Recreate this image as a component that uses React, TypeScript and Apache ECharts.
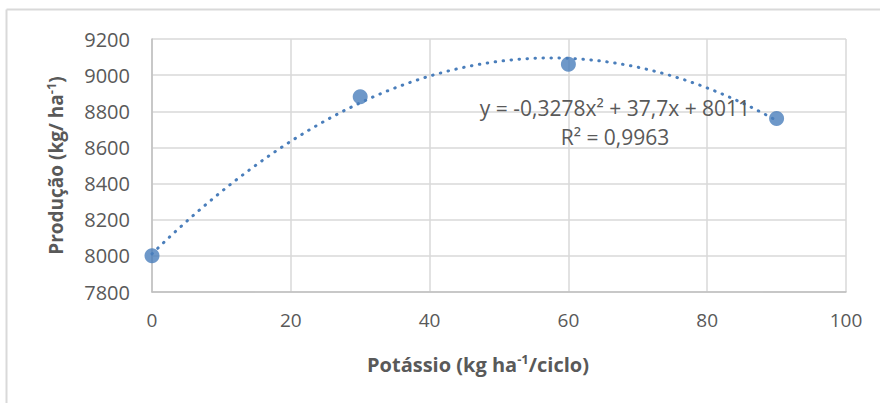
import React, { useEffect, useRef } from "react";
import * as echarts from "echarts";

// Potassium dose (kg/ha per cycle) and measured yield (kg/ha)
const potassio = [0, 30, 60, 90];
const producao = [8000, 8880, 9060, 8760];

// Polynomial trendline coefficients as reported on the chart
const coefA = -0.3278;
const coefB = 37.7;
const coefC = 8011;
const r2Text = "0,9963";

const xTicks = { min: 0, max: 100, interval: 20 };
const yTicks = { min: 7800, max: 9200, interval: 200 };

const blue = "#4a7ebb";
const gray = "#595959";
const font = "'Open Sans', 'Noto Sans', sans-serif";

export default function App() {
  const ref = useRef<HTMLDivElement>(null);

  useEffect(() => {
    if (!ref.current) return;
    const chart = echarts.init(ref.current, undefined, { renderer: "svg" });

    const xEnd = potassio[potassio.length - 1];
    const trend: number[][] = [];
    for (let i = 0; i <= 180; i++) {
      const x = (xEnd * i) / 180;
      trend.push([x, coefA * x * x + coefB * x + coefC]);
    }

    const points = potassio.map((x, i) => [x, producao[i]]);

    const supRich = {
      sup: {
        fontSize: 13,
        fontWeight: "bold",
        lineHeight: 12,
        verticalAlign: "top",
        color: gray,
        fontFamily: font,
      },
    };

    chart.setOption({
      animation: false,
      backgroundColor: "#ffffff",
      grid: { left: 152, right: 34, top: 39, bottom: 111 },
      xAxis: {
        type: "value",
        min: xTicks.min,
        max: xTicks.max,
        interval: xTicks.interval,
        axisLine: { show: true, lineStyle: { color: "#bfbfbf", width: 1.5 } },
        axisTick: { show: false },
        splitLine: { show: true, lineStyle: { color: "#d9d9d9", width: 1.5 } },
        axisLabel: { color: gray, fontSize: 19, fontFamily: font, margin: 18 },
        name: "Potássio (kg ha{sup|-1}/ciclo)",
        nameLocation: "middle",
        nameGap: 60,
        nameTextStyle: {
          color: gray,
          fontSize: 20,
          fontWeight: "bold",
          fontFamily: font,
          lineHeight: 24,
          padding: [0, 42, 0, 0],
          rich: supRich,
        },
      },
      yAxis: {
        type: "value",
        min: yTicks.min,
        max: yTicks.max,
        interval: yTicks.interval,
        axisLine: { show: true, lineStyle: { color: "#bfbfbf", width: 1.5 } },
        axisTick: { show: false },
        splitLine: { show: true, lineStyle: { color: "#d9d9d9", width: 1.5 } },
        axisLabel: {
          color: gray,
          fontSize: 20,
          fontFamily: font,
          margin: 22,
          formatter: (v: number) => String(v),
        },
        name: "Produção (kg/ ha{sup|-1})",
        nameLocation: "middle",
        nameGap: 84,
        nameTextStyle: {
          color: gray,
          fontSize: 19,
          fontWeight: "bold",
          fontFamily: font,
          lineHeight: 24,
          rich: supRich,
        },
      },
      series: [
        {
          type: "line",
          data: trend,
          showSymbol: false,
          symbol: "none",
          smooth: false,
          lineStyle: { color: blue, width: 3, type: [0.5, 7.5], cap: "round" },
          z: 2,
        },
        {
          type: "scatter",
          data: points,
          symbol: "circle",
          symbolSize: 15,
          itemStyle: { color: blue },
          z: 3,
        },
      ],
      graphic: [
        {
          type: "line",
          shape: { x1: 6.5, y1: 9.5, x2: 880, y2: 9.5 },
          style: { stroke: "#d9d9d9", lineWidth: 2 },
          silent: true,
        },
        {
          type: "line",
          shape: { x1: 6.5, y1: 9.5, x2: 6.5, y2: 403 },
          style: { stroke: "#d9d9d9", lineWidth: 2 },
          silent: true,
        },
        {
          type: "text",
          x: 615,
          y: 108,
          style: {
            text: "y = -0,3278x² + 37,7x + 8011",
            fill: gray,
            fontSize: 21,
            fontFamily: font,
            align: "center",
            verticalAlign: "middle",
          },
          z: 10,
        },
        {
          type: "text",
          x: 615,
          y: 137,
          style: {
            text: "R² = " + r2Text,
            fill: gray,
            fontSize: 21,
            fontFamily: font,
            align: "center",
            verticalAlign: "middle",
          },
          z: 10,
        },
      ],
    });

    return () => chart.dispose();
  }, []);

  return (
    <div
      ref={ref}
      style={{ position: "fixed", left: 0, top: 0, width: 880, height: 403, background: "#fff" }}
    />
  );
}
